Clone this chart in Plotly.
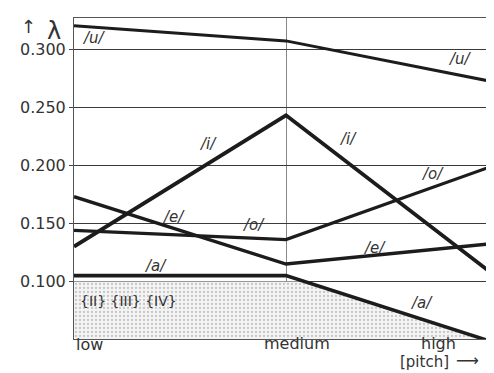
import numpy as np
import plotly.graph_objects as go

# ---- data ----
pitch = ["low", "medium", "high"]
xpos = [0, 1, 2]
u_vals = [0.320, 0.307, 0.271]
i_vals = [0.130, 0.243, 0.103]
e_vals = [0.173, 0.115, 0.133]
o_vals = [0.144, 0.136, 0.201]
a_vals = [0.105, 0.105, 0.0465]
ytick_vals = [0.050, 0.100, 0.150, 0.200, 0.250, 0.300]
ytick_text = ["0.050", "0.100", "0.150", "0.200", "0.250", "0.300"]
shade_top = 0.100

LINE = "#1c1c1c"
TXT = "#333333"
FONT = "DejaVu Sans"

# page has an 8px body margin; plot area spans page px x 74..494, y 18..331
PL, PR, PT, PB = 74, 494, 18, 331

fig = go.Figure()

a = np.array(a_vals)
xs = np.array(xpos, dtype=float)
t = (a[1] - shade_top) / (a[1] - a[2])
x_cross = xs[1] + t * (xs[2] - xs[1])
sx = [xs[0], x_cross, xs[2]]
sy = [shade_top, shade_top, a[2]]
fig.add_trace(go.Scatter(
    x=sx, y=sy, mode="lines", line=dict(width=0, color="rgba(0,0,0,0)"),
    fill="tozeroy", fillcolor="rgba(0,0,0,0)",
    fillpattern=dict(shape=".", fgcolor="#9a9a9a", bgcolor="#f4f4f4", size=4, solidity=0.25),
    hoverinfo="skip", showlegend=False))

for vals, w in [(u_vals, 3), (i_vals, 3.8), (e_vals, 3.4), (o_vals, 3.2), (a_vals, 3.6)]:
    fig.add_trace(go.Scatter(x=xpos, y=vals, mode="lines",
                             line=dict(color=LINE, width=w), showlegend=False))

def px2x(px):
    return (px - 74) / 212.0

def py2y(py):
    return 0.100 + (275 - py) / 1133.0

def ppx(px):
    return (px - PL) / (PR - PL)

def ppy(py):
    return (PB - py) / (PB - PT)

labels = [
    ("/u/", 94, 38), ("/u/", 460, 58), ("/i/", 208, 141), ("/i/", 348, 136),
    ("/e/", 173, 212), ("/o/", 253, 220), ("/o/", 432, 170), ("/e/", 374, 242),
    ("/a/", 155, 260), ("/a/", 421, 296),
]
ann = []
for txt, px, py in labels:
    ann.append(dict(x=px2x(px), y=py2y(py), xref="x", yref="y", text=txt,
                    showarrow=False, font=dict(family=FONT, size=15, color=TXT, style="italic")))
ann.append(dict(x=px2x(78), y=py2y(294), xref="x", yref="y", text="{II} {III} {IV}",
                xanchor="left", showarrow=False, font=dict(family=FONT, size=14, color=TXT)))

for txt, px, py in [("low", 74, 348), ("medium", 297, 347), ("high", 458, 347)]:
    ann.append(dict(x=ppx(px), y=ppy(py), xref="paper", yref="paper", text=txt,
                    showarrow=False, font=dict(family=FONT, size=16, color=TXT)))
ann.append(dict(x=ppx(451), y=ppy(364), xref="paper", yref="paper", text="[pitch]",
                showarrow=False, font=dict(family=FONT, size=15, color=TXT)))
ann.append(dict(x=ppx(481), y=ppy(363), xref="paper", yref="paper", text="⟶",
                showarrow=False, font=dict(family=FONT, size=16, color=TXT)))
ann.append(dict(x=ppx(19), y=ppy(14), xref="paper", yref="paper", text="↑",
                showarrow=False, font=dict(family=FONT, size=18, color=TXT)))
ann.append(dict(x=ppx(45), y=ppy(15), xref="paper", yref="paper", text="λ",
                showarrow=False, font=dict(family=FONT, size=24, color=TXT)))

fig.update_layout(
    width=486, height=365,
    margin=dict(l=PL - 8, r=0, t=PT - 8, b=373 - PB - 8 + 0),
    paper_bgcolor="white", plot_bgcolor="white",
    annotations=ann,
    xaxis=dict(range=[0, 420 / 212.0], tickvals=[1], showticklabels=False, ticks="",
               showgrid=True, gridcolor="#888888", gridwidth=1,
               showline=True, linecolor="#555555", linewidth=1, mirror=True,
               zeroline=False),
    yaxis=dict(range=[0.0505, 0.3267], tickvals=ytick_vals, ticktext=ytick_text,
               ticks="outside", ticklen=4, tickcolor="#444444",
               tickfont=dict(family=FONT, size=16, color=TXT),
               showgrid=True, gridcolor="#3a3a3a", gridwidth=1.4,
               showline=True, linecolor="#555555", linewidth=1, zeroline=False),
)

fig.write_html("out.html")
